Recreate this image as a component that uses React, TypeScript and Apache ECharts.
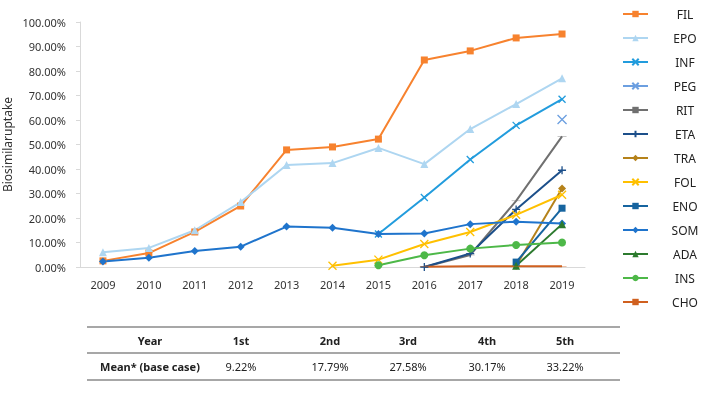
import React, { useEffect, useRef } from "react";
import * as echarts from "echarts";

const years = ["2009", "2010", "2011", "2012", "2013", "2014", "2015", "2016", "2017", "2018", "2019"];
const FIL = [2.5, 5.7, 14.3, 24.9, 47.8, 49.0, 52.2, 84.5, 88.2, 93.5, 95.1];
const EPO = [6.0, 7.8, 15.0, 26.5, 41.6, 42.4, 48.6, 42.0, 56.3, 66.5, 77.0];
const INF = [null, null, null, null, null, null, 13.5, 28.4, 43.9, 57.8, 68.5];
const PEG = [null, null, null, null, null, null, null, null, null, null, 60.2];
const RIT = [null, null, null, null, null, null, null, 0.0, 4.9, 27.0, 53.3];
const ETA = [null, null, null, null, null, null, null, 0.0, 5.5, 23.5, 39.5];
const TRA = [null, null, null, null, null, null, null, null, null, 0.5, 32.0];
const FOL = [null, null, null, null, null, 0.5, 3.0, 9.4, 14.3, 21.3, 29.5];
const ENO = [null, null, null, null, null, null, null, null, null, 2.0, 24.0];
const SOM = [2.2, 3.8, 6.5, 8.3, 16.5, 16.0, 13.5, 13.7, 17.5, 18.5, 17.8];
const ADA = [null, null, null, null, null, null, null, null, null, 0.5, 17.5];
const INS = [null, null, null, null, null, null, 0.7, 4.8, 7.5, 9.0, 10.0];
const CHO = [null, null, null, null, null, null, null, 0.1, 0.3, 0.3, 0.3];

const tableHeader = ["Year", "1st", "2nd", "3rd", "4th", "5th"];
const tableRow = ["Mean* (base case)", "9.22%", "17.79%", "27.58%", "30.17%", "33.22%"];

const X = "path://M0,0L10,10M10,0L0,10";
const PLUS = "path://M5,0L5,10M0,5L10,5";
const DASH = "path://M0,0L10,0L10,2L0,2Z";

const seriesDefs: [string, (number | null)[], string, string, any][] = [
  ["FIL", FIL, "#F7822E", "rect", 7],
  ["EPO", EPO, "#AED6F1", "triangle", 8],
  ["INF", INF, "#229CDD", X, 7],
  ["PEG", PEG, "#6C9FE0", X, 9],
  ["RIT", RIT, "#707070", DASH, [9, 2]],
  ["ETA", ETA, "#1C4F8A", PLUS, 8],
  ["TRA", TRA, "#B5821A", "diamond", 8],
  ["FOL", FOL, "#FFC000", X, 8],
  ["ENO", ENO, "#16649F", "rect", 7],
  ["SOM", SOM, "#1F74CC", "diamond", 8],
  ["ADA", ADA, "#2C7A2E", "triangle", 8],
  ["INS", INS, "#4DB848", "circle", 8],
  ["CHO", CHO, "#D0601F", DASH, [9, 2]],
];

const FONT = "'Noto Sans', sans-serif";

export default function App() {
  const ref = useRef<HTMLDivElement>(null);
  useEffect(() => {
    if (!ref.current) return;
    const chart = echarts.init(ref.current, null, { renderer: "svg" });
    const colX = [150, 241, 330, 408, 487, 565];
    const graphics: any[] = [];
    [327, 353, 380].forEach((y) =>
      graphics.push({
        type: "line",
        shape: { x1: 87, y1: y, x2: 620, y2: y },
        style: { stroke: "#8a8a8a", lineWidth: 1.5 },
      })
    );
    tableHeader.forEach((t, i) =>
      graphics.push({
        type: "text",
        x: colX[i],
        y: 340,
        style: { text: t, fill: "#222", font: `bold 11px ${FONT}`, textAlign: "center", textVerticalAlign: "middle", align: "center", verticalAlign: "middle" },
      })
    );
    tableRow.forEach((t, i) =>
      graphics.push({
        type: "text",
        x: colX[i],
        y: 366,
        style: { text: t, fill: "#222", font: `${i === 0 ? "bold " : ""}11px ${FONT}`, textAlign: "center", textVerticalAlign: "middle", align: "center", verticalAlign: "middle" },
      })
    );

    chart.setOption({
      animation: false,
      grid: { left: 80, right: 130, top: 22, bottom: 139, containLabel: false, outerBoundsMode: "none" },
      legend: {
        orient: "vertical",
        left: 617,
        top: 3,
        itemWidth: 25,
        itemHeight: 8,
        itemGap: 12,
        formatter: "{a|{name}}",
        textStyle: {
          fontFamily: FONT,
          fontSize: 12,
          color: "#222",
          rich: { a: { width: 36, align: "center", padding: [0, 0, 0, 14], fontFamily: FONT, fontSize: 12, color: "#222", lineHeight: 14 } },
        },
        data: seriesDefs.map((d) => d[0]),
      },
      xAxis: {
        type: "category",
        data: years,
        axisLine: { lineStyle: { color: "#d9d9d9" } },
        axisTick: { show: false },
        axisLabel: { fontFamily: FONT, fontSize: 11, color: "#333", margin: 12 },
      },
      yAxis: {
        type: "value",
        min: 0,
        max: 100,
        interval: 10,
        name: "Biosimilaruptake",
        nameLocation: "middle",
        nameGap: 67,
        nameMoveOverlap: false,
        nameTextStyle: { fontFamily: FONT, fontSize: 12, color: "#333" },
        axisLine: { show: true, lineStyle: { color: "#d9d9d9" } },
        axisTick: { show: true, length: 4, lineStyle: { color: "#d9d9d9" } },
        splitLine: { show: false },
        axisLabel: { fontFamily: FONT, fontSize: 11, color: "#333", margin: 14, formatter: (v: number) => v.toFixed(2) + "%" },
      },
      series: seriesDefs.map(([name, data, color, symbol, size]) => ({
        name,
        type: "line",
        data,
        symbol,
        symbolSize: size,
        symbolKeepAspect: symbol === DASH,
        showAllSymbol: true,
        lineStyle: { color, width: 2 },
        itemStyle: { color, borderColor: color, borderWidth: symbol === X || symbol === PLUS ? 1.3 : 0 },
      })),
      graphic: graphics,
    });
    return () => chart.dispose();
  }, []);
  return <div ref={ref} style={{ position: "fixed", left: 0, top: 0, width: 715, height: 406 }} />;
}
